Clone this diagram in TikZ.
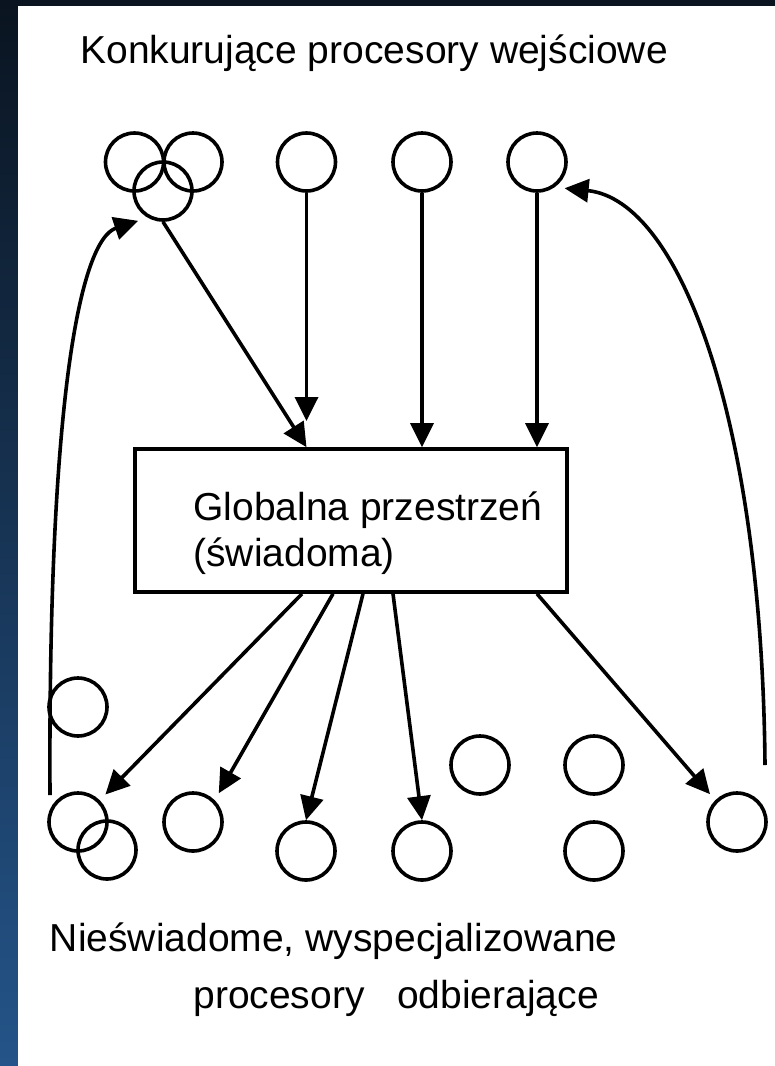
\documentclass[tikz,border=0pt]{standalone}
\usepackage{fontspec}
\setmainfont{Liberation Sans}
\usetikzlibrary{arrows.meta}
\definecolor{bgtop}{RGB}{10,20,32}
\definecolor{bgbot}{RGB}{36,84,137}
\tikzset{proc/.style={circle, draw, line width=1.8pt, minimum size=29pt, inner sep=0pt},
	arr/.style={line width=1.8pt, -{Triangle[length=12pt, width=11.5pt]}},
	lbl/.style={inner sep=0pt, font=\fontsize{19.5}{23}\selectfont}}

\begin{document}
\begin{tikzpicture}[x=0.5pt, y=-0.5pt]
			% background
			\useasboundingbox (0,0) rectangle (775,1066);
			\fill[top color=bgtop, bottom color=bgbot] (0,0) rectangle (775,1066);
			\fill[white] (18,6) rectangle (775,1066);
			
			% input processors
			\node [proc] (P1a) at (134.5,162) {};
			\node [proc] (P1b) at (193,162) {};
			\node [proc] (P1c) at (163,191) {};
			\node [proc] (P2) at (306.5,162) {};
			\node [proc] (P3) at (422,162) {};
			\node [proc] (P4) at (537,162) {};
			
			% workspace
			\node [draw, line width=1.8pt, minimum width=216pt, minimum height=71.5pt] (W) at (351,520.5) {};
			\node [lbl, align=left, anchor=base west] (Wt) at (193,566) {Globalna przestrzeń\\(świadoma)};
			
			% receiving processors
			\node [proc] (R0) at (78,707) {};
			\node [proc] (R1a) at (78,822) {};
			\node [proc] (R1b) at (107,850) {};
			\node [proc] (R2) at (193,822) {};
			\node [proc] (R3) at (306,851) {};
			\node [proc] (R4) at (422,851) {};
			\node [proc] (R5) at (480,765) {};
			\node [proc] (R6) at (594,765) {};
			\node [proc] (R7) at (594,851) {};
			\node [proc] (R8) at (737,822) {};
			
			\coordinate (t2end) at (306.5,421);
			\coordinate (lstart) at (50,795);
			\coordinate (rstart) at (765,765);
			
			% arrows
			\draw[arr] (P1c.south) -- (P2 |- W.north);
			\draw[arr] (P2.south) -- (t2end);
			\draw[arr] (P3.south) -- (P3 |- W.north);
			\draw[arr] (P4.south) -- (P4 |- W.north);
			
			\draw[arr, shorten >=4pt] ([xshift=-24.5pt]W.south) -- (R1a.45);
			\draw[arr, shorten >=4pt] ([xshift=-9pt]W.south) -- (R2.45);
			\draw[arr] ([xshift=6pt]W.south) -- (R3.north);
			\draw[arr] ([xshift=21pt]W.south) -- (R4.north);
			\draw[arr, shorten >=4pt] (P4 |- W.south) -- (R8.135);
			
			\draw[arr, shorten >=5pt] (lstart) .. controls (48,400) and (80,240) .. (P1c.240);
			\draw[arr, shorten >=5pt] (rstart) .. controls (762,420) and (680,200) .. (P4.-55);
			
			% labels
			\node [lbl, anchor=base west] (T) at (80,63) {Konkurujące procesory wejściowe};
			\node [lbl, anchor=base west] (U) at (49.5,951) {Nieświadome, wyspecjalizowane};
			\node [lbl, anchor=base west] (V) at (193,1008) {procesory~~~odbierające};
		\end{tikzpicture}
\end{document}
